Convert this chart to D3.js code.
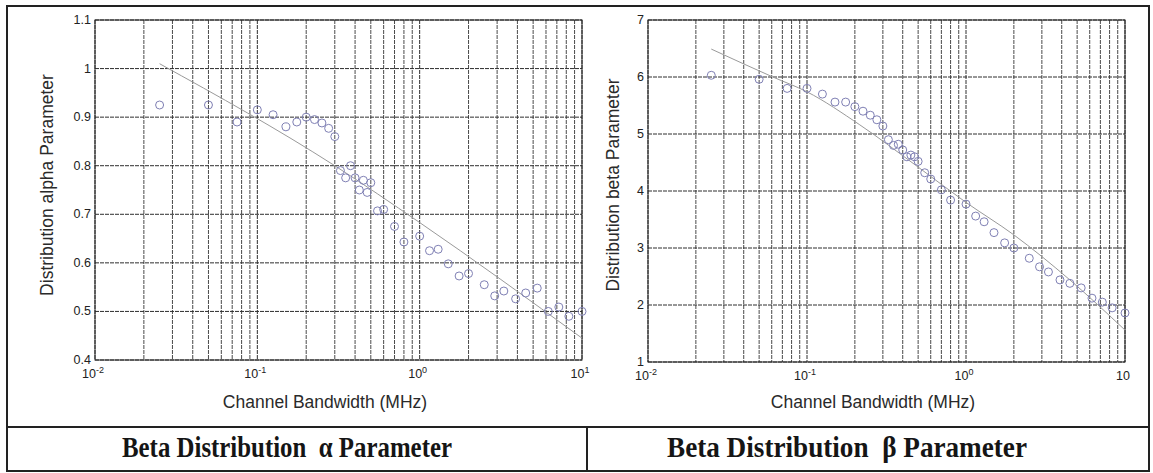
<!DOCTYPE html>
<html>
<head>
<meta charset="utf-8">
<script src="https://cdn.jsdelivr.net/npm/d3@7"></script>
<style>
  body { margin: 0; background: #fff; }
  svg { display: block; }
  .tick-label { font-family: Arial, "Liberation Sans", sans-serif; font-size: 12.5px; fill: #222; }
  .axis-label { font-family: Arial, "Liberation Sans", sans-serif; font-size: 17.5px; fill: #2a2a2a; }
  .caption { font-family: "Liberation Serif", "Times New Roman", serif; font-weight: bold; font-size: 30px; fill: #151515; white-space: pre; }
</style>
</head>
<body>
<svg id="chart" width="1153" height="473"></svg>
<script>
// channel bandwidths (MHz) of the measured points, shared by both panels
const bandwidth = [0.025, 0.05, 0.075, 0.1, 0.125, 0.15, 0.175, 0.2, 0.225, 0.25,
  0.275, 0.3, 0.325, 0.35, 0.375, 0.4, 0.425, 0.45, 0.475, 0.5,
  0.55, 0.6, 0.7, 0.8, 1.0, 1.15, 1.3, 1.5, 1.75, 2.0,
  2.5, 2.9, 3.3, 3.9, 4.5, 5.3, 6.2, 7.2, 8.3, 10];

const alphaValues = [0.925, 0.925, 0.89, 0.915, 0.905, 0.88, 0.89, 0.9, 0.895, 0.888,
  0.877, 0.86, 0.79, 0.775, 0.80, 0.775, 0.75, 0.77, 0.745, 0.765,
  0.707, 0.71, 0.675, 0.643, 0.655, 0.625, 0.628, 0.598, 0.573, 0.578,
  0.555, 0.532, 0.542, 0.526, 0.538, 0.548, 0.5, 0.509, 0.49, 0.5];

const betaValues = [6.03, 5.96, 5.8, 5.8, 5.7, 5.56, 5.56, 5.48, 5.4, 5.33,
  5.25, 5.14, 4.9, 4.8, 4.82, 4.72, 4.6, 4.63, 4.6, 4.52,
  4.32, 4.21, 4.02, 3.84, 3.77, 3.56, 3.46, 3.27, 3.09, 3.0,
  2.82, 2.67, 2.58, 2.44, 2.38, 2.3, 2.12, 2.05, 1.95, 1.86];

// fitted curves
const alphaFitX = [0.025, 0.3, 1, 10];
const alphaFitY = [1.01, 0.80, 0.683, 0.445];
const betaFitX = [0.025, 0.061, 0.1, 0.215, 0.5, 1.0, 2, 4.5, 10];
const betaFitY = [6.49, 6.0, 5.74, 5.16, 4.42, 3.8, 3.23, 2.44, 1.56];

const xTickValues = [0.01, 0.1, 1, 10];
const alphaXExponents = ["-2", "-1", "0", "1"];
const betaXExponents = ["-2", "-1", "0", ""];
const alphaYTicks = [0.4, 0.5, 0.6, 0.7, 0.8, 0.9, 1, 1.1];
const betaYTicks = [1, 2, 3, 4, 5, 6, 7];

const svg = d3.select("#chart");

const drawPanel = (cfg) => {
  const x = d3.scaleLog().domain([0.01, 10]).range([cfg.left, cfg.right]);
  const y = d3.scaleLinear().domain(cfg.yDomain).range([cfg.bottom, cfg.top]);
  const g = svg.append("g");

  // vertical grid: every 1..9 multiple per decade
  const minor = x.ticks();
  g.selectAll(".vgrid")
    .data(minor)
    .enter().append("line")
    .attr("x1", (d) => x(d)).attr("x2", (d) => x(d))
    .attr("y1", cfg.top).attr("y2", cfg.bottom)
    .attr("stroke", (d) => xTickValues.includes(d) ? "#2e2e2e" : "#4a4a4a")
    .attr("stroke-width", 1)
    .attr("stroke-dasharray", "4,1");

  g.selectAll(".hgrid")
    .data(cfg.yTicks)
    .enter().append("line")
    .attr("x1", cfg.left).attr("x2", cfg.right)
    .attr("y1", (d) => y(d)).attr("y2", (d) => y(d))
    .attr("stroke", "#2e2e2e")
    .attr("stroke-width", 1)
    .attr("stroke-dasharray", "4,1");

  // axes box
  g.append("rect")
    .attr("x", cfg.left).attr("y", cfg.top)
    .attr("width", cfg.right - cfg.left).attr("height", cfg.bottom - cfg.top)
    .attr("fill", "none").attr("stroke", "#222").attr("stroke-width", 1);

  // y tick labels
  g.selectAll(".ylab")
    .data(cfg.yTicks)
    .enter().append("text")
    .attr("class", "tick-label")
    .attr("x", cfg.left - 4)
    .attr("y", (d) => y(d) + 4)
    .attr("text-anchor", "end")
    .text((d) => d);

  // x tick labels with exponents
  const xl = g.selectAll(".xlab")
    .data(xTickValues)
    .enter().append("text")
    .attr("class", "tick-label")
    .attr("x", (d) => x(d) - 2)
    .attr("y", cfg.bottom + 18)
    .attr("text-anchor", "middle");
  xl.append("tspan").text("10");
  xl.append("tspan")
    .attr("dy", -5)
    .attr("font-size", "9px")
    .text((d, i) => cfg.exponents[i]);

  // fit curve
  const line = d3.line()
    .x((d) => x(d[0]))
    .y((d) => y(d[1]))
    .curve(d3.curveMonotoneX);
  g.append("path")
    .datum(cfg.fitX.map((v, i) => [v, cfg.fitY[i]]))
    .attr("d", line)
    .attr("fill", "none")
    .attr("stroke", "#9a9a9a")
    .attr("stroke-width", 1);

  // measured points
  g.selectAll(".pt")
    .data(bandwidth.map((v, i) => [v, cfg.values[i]]))
    .enter().append("circle")
    .attr("cx", (d) => x(d[0]))
    .attr("cy", (d) => y(d[1]))
    .attr("r", 4)
    .attr("fill", "none")
    .attr("stroke", "#7f80b4")
    .attr("stroke-width", 1);

  // axis labels
  g.append("text")
    .attr("class", "axis-label")
    .attr("x", cfg.xLabelX)
    .attr("y", 408)
    .attr("text-anchor", "middle")
    .text("Channel Bandwidth (MHz)");

  g.append("text")
    .attr("class", "axis-label")
    .attr("transform", `translate(${cfg.yLabelX},185) rotate(-90)`)
    .attr("text-anchor", "middle")
    .text(cfg.yLabel);
};

drawPanel({
  left: 95, right: 582, top: 20, bottom: 360,
  yDomain: [0.4, 1.1], yTicks: alphaYTicks, exponents: alphaXExponents,
  values: alphaValues, fitX: alphaFitX, fitY: alphaFitY,
  xLabelX: 325, yLabelX: 53, yLabel: "Distribution alpha Parameter"
});

drawPanel({
  left: 648, right: 1125, top: 20, bottom: 362,
  yDomain: [1, 7], yTicks: betaYTicks, exponents: betaXExponents,
  values: betaValues, fitX: betaFitX, fitY: betaFitY,
  xLabelX: 873, yLabelX: 619, yLabel: "Distribution beta Parameter"
});

// table frame
svg.append("rect")
  .attr("x", 7).attr("y", 6).attr("width", 1142).attr("height", 465)
  .attr("fill", "none").attr("stroke", "#222").attr("stroke-width", 2);
svg.append("line")
  .attr("x1", 7).attr("x2", 1149).attr("y1", 427).attr("y2", 427)
  .attr("stroke", "#222").attr("stroke-width", 2);
svg.append("line")
  .attr("x1", 587).attr("x2", 587).attr("y1", 427).attr("y2", 471)
  .attr("stroke", "#222").attr("stroke-width", 2);

svg.append("text")
  .attr("class", "caption")
  .attr("x", 122).attr("y", 457)
  .attr("textLength", 330).attr("lengthAdjust", "spacingAndGlyphs")
  .text("Beta Distribution  α Parameter");
svg.append("text")
  .attr("class", "caption")
  .attr("x", 667).attr("y", 457)
  .attr("textLength", 360).attr("lengthAdjust", "spacingAndGlyphs")
  .text("Beta Distribution  β Parameter");
</script>
</body>
</html>
